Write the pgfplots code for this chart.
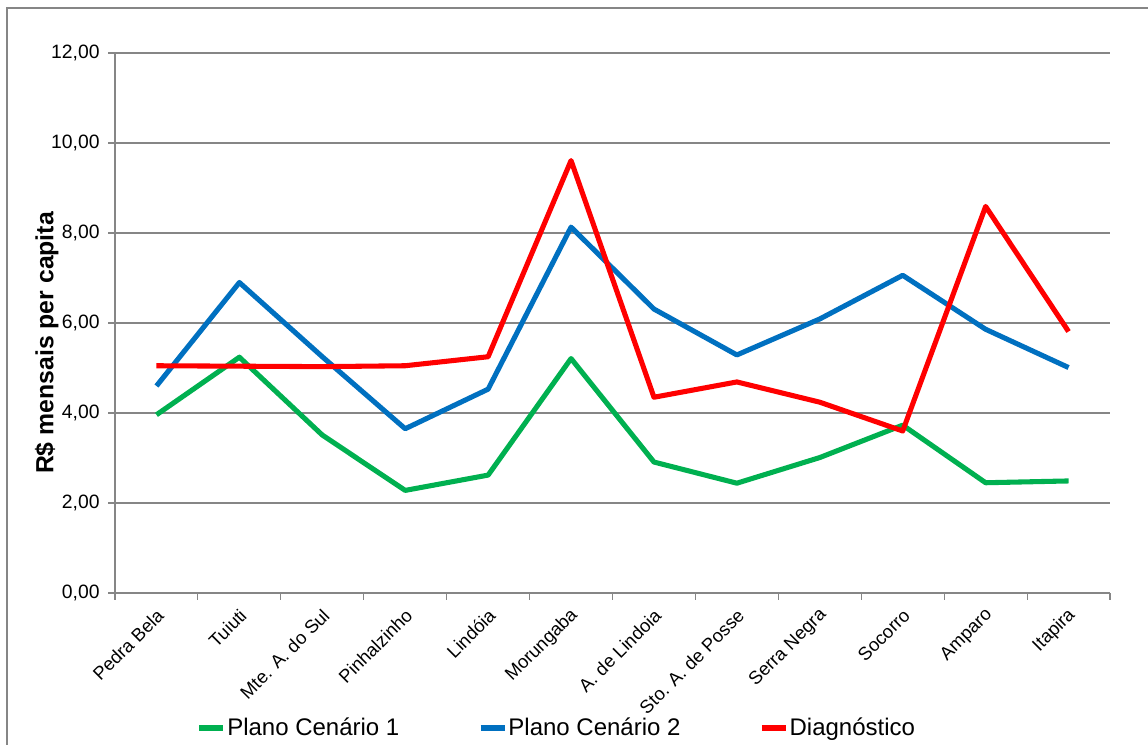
\documentclass[border=0pt]{standalone}
\usepackage{pgfplots}
\pgfplotsset{compat=1.18}
\usepackage{fontspec}
\setmainfont{Liberation Sans}
\definecolor{cgreen}{RGB}{0,176,80}
\definecolor{cblue}{RGB}{0,112,192}
\definecolor{cred}{RGB}{255,0,0}
\definecolor{cgrid}{RGB}{134,134,134}
\begin{document}
\begin{tikzpicture}
\useasboundingbox (0pt,0pt) rectangle (861pt,558.75pt);
\draw[cgrid, line width=0.9pt] (5.25pt,-5pt) -- (5.25pt,552.75pt) -- (870pt,552.75pt);
\begin{axis}[
  at={(86.25pt,114pt)}, anchor=south west,
  scale only axis, width=746.25pt, height=405pt,
  xmin=-0.5, xmax=11.5, ymin=0, ymax=12,
  ytick={0,2,...,12},
  xtick={0,...,11},
  xticklabels={Pedra Bela,Tuiuti,Mte. A. do Sul,Pinhalzinho,Lindóia,Morungaba,A. de Lindoia,Sto. A. de Posse,Serra Negra,Socorro,Amparo,Itapira},
  minor xtick={-0.5,0.5,...,11.5},
  axis x line*=bottom, axis y line*=left,
  axis line style={cgrid, line width=0.8pt, -},
  ymajorgrids, grid style={cgrid, line width=0.8pt},
  major x tick style={draw=none},
  minor x tick style={cgrid, line width=0.8pt},
  major y tick style={cgrid, line width=0.8pt},
  tick align=outside, major tick length=5pt, minor tick length=5pt,
  yticklabel style={font=\fontsize{14.5}{16}\selectfont, xshift=-3pt},
  xticklabel style={font=\fontsize{13.8}{15}\selectfont, inner sep=0pt, yshift=-9.5pt, xshift=3pt, rotate=45, anchor=east},
  /pgf/number format/.cd, fixed, fixed zerofill, precision=2, use comma, assume math mode=true,
  /pgfplots/.cd,
  ylabel={\bfseries R\$ mensais per capita},
  every axis y label/.style={at={(ticklabel cs:0.5)}, rotate=90, anchor=center, xshift=-15pt, font=\fontsize{18.6}{20}\selectfont},
  legend columns=3,
  legend style={at={(0.082,-0.25)}, anchor=west, draw=none, fill=none, inner sep=0pt,
    font=\fontsize{18}{20}\selectfont,
    /tikz/every odd column/.append style={column sep=0pt},
    /tikz/every even column/.append style={column sep=58pt},
    nodes={inner sep=1pt}},
  legend image code/.code={\draw[#1, line width=3.8pt] (0pt,0pt) -- (18pt,0pt);},
  clip=false,
]
\addplot[cgreen, line width=3.8pt, line join=round] coordinates {
(0,3.96) (1,5.24) (2,3.51) (3,2.28) (4,2.62) (5,5.21) (6,2.91) (7,2.44) (8,3.01) (9,3.73) (10,2.45) (11,2.49)};
\addlegendentry{Plano Cenário 1}
\addplot[cblue, line width=3.8pt, line join=round] coordinates {
(0,4.60) (1,6.90) (2,5.25) (3,3.65) (4,4.53) (5,8.13) (6,6.31) (7,5.29) (8,6.09) (9,7.06) (10,5.86) (11,5.01)};
\addlegendentry{Plano Cenário 2}
\addplot[cred, line width=3.8pt, line join=round] coordinates {
(0,5.05) (1,5.04) (2,5.03) (3,5.05) (4,5.25) (5,9.61) (6,4.35) (7,4.69) (8,4.24) (9,3.60) (10,8.59) (11,5.81)};
\addlegendentry{Diagnóstico}
\end{axis}
\end{tikzpicture}
\end{document}
